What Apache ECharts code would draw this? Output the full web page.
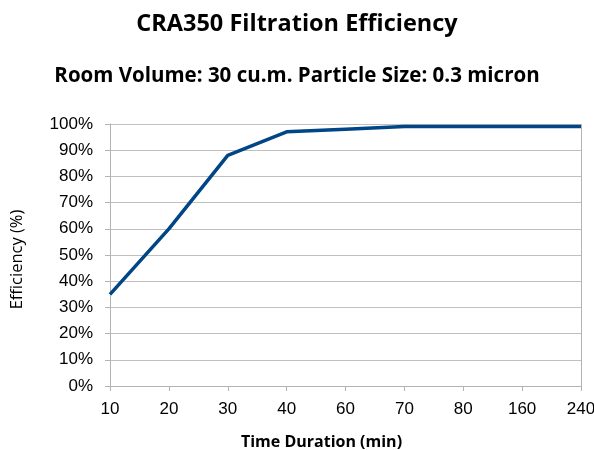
<!DOCTYPE html>
<html>
<head>
<meta charset="utf-8">
<script src="https://cdn.jsdelivr.net/npm/echarts@6/dist/echarts.min.js"></script>
<style>
  html, body { margin: 0; padding: 0; background: #fff; }
  #chart { width: 594px; height: 450px; }
</style>
</head>
<body>
<div id="chart"></div>
<script>
// data
const durations = ['10', '20', '30', '40', '60', '70', '80', '160', '240'];
const efficiency = [35, 60, 88, 97, 98, 99, 99, 99, 99];

var chart = echarts.init(document.getElementById('chart'));

var option = {
    animation: false,
    backgroundColor: '#fff',
    title: [
        {
            text: 'CRA350 Filtration Efficiency',
            left: 'center',
            top: 7,
            textStyle: { fontFamily: 'Open Sans', fontWeight: 'bold', fontSize: 23.5, color: '#000' }
        },
        {
            text: 'Room Volume: 30 cu.m. Particle Size: 0.3 micron',
            left: 'center',
            top: 61,
            textStyle: { fontFamily: 'Open Sans', fontWeight: 'bold', fontSize: 20.5, color: '#000' },
            padding: [5, 0, 5, 16]
        }
    ],
    grid: {
        left: 110,
        right: 13,
        top: 124,
        bottom: 64,
        containLabel: false,
        outerBoundsMode: 'none'
    },
    xAxis: {
        type: 'category',
        data: durations,
        boundaryGap: false,
        name: 'Time Duration (min)',
        nameLocation: 'middle',
        nameGap: 48,
        nameTextStyle: { fontFamily: 'Open Sans', fontWeight: 'bold', fontSize: 16, color: '#000', padding: [0, 48, 0, 0] },
        axisLine: { lineStyle: { color: '#b3b3b3' } },
        axisTick: { show: true, length: 5, lineStyle: { color: '#b3b3b3' } },
        axisLabel: { fontFamily: 'Liberation Sans', fontSize: 17, color: '#000', margin: 15 },
        splitLine: { show: false }
    },
    yAxis: {
        type: 'value',
        min: 0,
        max: 100,
        interval: 10,
        name: 'Efficiency (%)',
        nameLocation: 'middle',
        nameRotate: 90,
        nameGap: 84,
        nameTextStyle: { fontFamily: 'Open Sans', fontSize: 16.5, color: '#000', padding: [0, 9, 0, 0] },
        axisLine: { show: true, lineStyle: { color: '#b3b3b3' } },
        axisTick: { show: true, length: 5, lineStyle: { color: '#b3b3b3' } },
        axisLabel: { formatter: '{value}%', fontFamily: 'Liberation Sans', fontSize: 17, color: '#000', margin: 17 },
        splitLine: { lineStyle: { color: '#c0c0c0' } }
    },
    series: [
        {
            name: 'Efficiency',
            type: 'line',
            data: efficiency,
            symbol: 'none',
            lineStyle: { color: '#004586', width: 3.5 },
            itemStyle: { color: '#004586' }
        },
        {
            // right border of plot area
            type: 'line',
            data: [],
            markLine: {
                silent: true,
                symbol: 'none',
                label: { show: false },
                lineStyle: { color: '#b3b3b3', type: 'solid', width: 1 },
                data: [{ xAxis: '240' }]
            }
        }
    ]
};

chart.setOption(option);
</script>
</body>
</html>
